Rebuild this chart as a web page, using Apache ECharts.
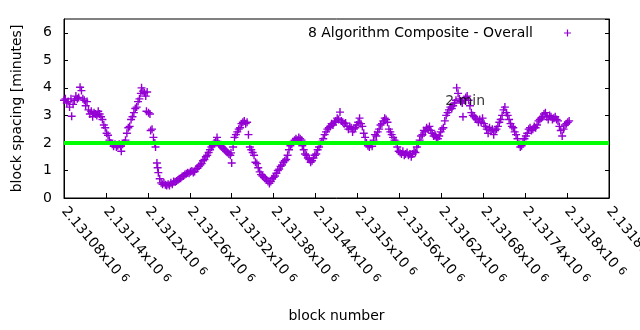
<!DOCTYPE html>
<html>
<head>
<meta charset="utf-8">
<script src="https://cdn.jsdelivr.net/npm/echarts@6/dist/echarts.min.js"></script>
<style>
html,body{margin:0;padding:0;background:#fff;}
#chart{width:640px;height:330px;}
</style>
</head>
<body>
<div id="chart"></div>
<script>
// ---- data ----
const seriesName = '8 Algorithm Composite - Overall';
const blockNumbers = [
2131080,2131082,2131084,2131086,2131088,2131090,2131091,2131093,2131095,2131097,2131099,2131101,2131103,2131105,2131107,2131109,
2131111,2131113,2131115,2131117,2131119,2131121,2131123,2131125,2131127,2131129,2131131,2131133,2131135,2131137,2131139,2131141,
2131143,2131145,2131147,2131149,2131151,2131153,2131155,2131157,2131159,2131161,2131162,2131164,2131166,2131168,2131170,2131172,
2131174,2131176,2131178,2131180,2131182,2131184,2131186,2131188,2131190,2131191,2131193,2131195,2131197,2131198,2131199,2131201,
2131203,2131204,2131206,2131208,2131210,2131211,2131213,2131214,2131215,2131217,2131219,2131221,2131223,2131225,2131227,2131229,
2131231,2131233,2131235,2131237,2131239,2131241,2131243,2131245,2131247,2131249,2131251,2131253,2131255,2131257,2131259,2131261,
2131263,2131265,2131267,2131269,2131271,2131273,2131275,2131277,2131279,2131281,2131283,2131285,2131287,2131289,2131291,2131293,
2131295,2131297,2131299,2131300,2131302,2131304,2131306,2131308,2131310,2131312,2131314,2131316,2131318,2131319,2131320,2131322,
2131324,2131326,2131328,2131330,2131332,2131334,2131336,2131338,2131340,2131342,2131344,2131346,2131348,2131350,2131352,2131354,
2131356,2131358,2131360,2131362,2131364,2131366,2131368,2131370,2131372,2131374,2131376,2131378,2131380,2131382,2131384,2131386,
2131388,2131390,2131392,2131394,2131396,2131398,2131400,2131402,2131404,2131406,2131408,2131410,2131412,2131414,2131416,2131418,
2131420,2131421,2131423,2131425,2131427,2131429,2131431,2131433,2131435,2131437,2131439,2131441,2131443,2131445,2131447,2131449,
2131451,2131453,2131455,2131457,2131459,2131461,2131463,2131465,2131467,2131469,2131471,2131473,2131475,2131477,2131479,2131481,
2131483,2131485,2131487,2131489,2131491,2131493,2131495,2131497,2131499,2131501,2131503,2131505,2131507,2131509,2131511,2131513,
2131515,2131517,2131519,2131521,2131523,2131525,2131527,2131529,2131531,2131533,2131535,2131537,2131539,2131541,2131543,2131545,
2131547,2131549,2131551,2131553,2131555,2131557,2131559,2131561,2131563,2131565,2131567,2131569,2131571,2131573,2131575,2131577,
2131579,2131581,2131583,2131585,2131587,2131589,2131591,2131593,2131595,2131597,2131599,2131601,2131603,2131605,2131607,2131609,
2131611,2131613,2131615,2131617,2131619,2131621,2131623,2131625,2131627,2131629,2131631,2131633,2131635,2131637,2131639,2131641,
2131642,2131644,2131646,2131648,2131650,2131651,2131653,2131655,2131657,2131659,2131661,2131663,2131665,2131667,2131669,2131671,
2131673,2131675,2131677,2131679,2131681,2131683,2131685,2131687,2131689,2131691,2131693,2131695,2131697,2131699,2131701,2131703,
2131705,2131707,2131709,2131711,2131713,2131715,2131717,2131719,2131721,2131723,2131725,2131727,2131729,2131731,2131733,2131735,
2131737,2131739,2131741,2131743,2131745,2131747,2131749,2131751,2131753,2131755,2131757,2131759,2131761,2131763,2131765,2131767,
2131769,2131771,2131773,2131775,2131777,2131779,2131781,2131783,2131785,2131787,2131789,2131791,2131793,2131795,2131797,2131799,
2131801,2131803
];
const spacingMinutes = [
3.55,3.6,3.45,3.5,3.3,3.6,2.97,3.4,3.55,3.7,3.6,3.65,4.02,3.9,3.6,3.55,
3.35,3.5,3.2,3.05,3.15,2.95,3.1,3.05,3.0,3.15,3.05,2.95,2.85,2.65,2.55,2.35,
2.28,2.1,2.0,1.95,1.88,1.95,1.85,1.9,1.95,1.88,1.7,1.95,2.0,2.1,2.35,2.55,
2.6,2.85,2.95,3.1,3.25,3.3,3.5,3.6,3.8,4.0,3.88,3.82,3.7,3.15,3.85,3.1,
3.05,2.45,2.5,2.2,2.0,1.85,1.27,1.1,0.92,0.7,0.55,0.5,0.55,0.48,0.45,0.5,
0.45,0.55,0.5,0.6,0.58,0.62,0.65,0.7,0.72,0.78,0.8,0.85,0.88,0.92,0.9,0.95,
0.98,0.93,0.96,1.05,1.08,1.15,1.2,1.25,1.35,1.4,1.5,1.55,1.65,1.75,1.85,1.9,
2.0,2.05,2.2,2.05,1.95,1.9,1.85,1.8,1.75,1.7,1.65,1.6,1.55,1.64,1.27,1.85,
2.2,2.3,2.4,2.5,2.55,2.7,2.75,2.8,2.7,2.75,2.3,1.85,1.75,1.65,1.55,1.3,
1.25,1.1,0.95,0.85,0.8,0.75,0.72,0.65,0.6,0.53,0.6,0.7,0.75,0.8,0.9,1.0,
1.05,1.15,1.2,1.3,1.35,1.4,1.55,1.75,1.9,1.95,2.05,2.1,2.15,2.1,2.2,2.15,
2.1,1.9,1.75,1.6,1.55,1.45,1.4,1.3,1.35,1.45,1.55,1.6,1.75,1.85,1.95,2.05,
2.15,2.3,2.4,2.5,2.55,2.6,2.7,2.65,2.75,2.8,2.9,2.85,3.12,2.8,2.75,2.7,
2.72,2.6,2.5,2.6,2.55,2.4,2.5,2.55,2.65,2.75,2.9,2.7,2.6,2.35,2.2,2.0,
1.9,1.85,1.95,1.88,2.1,2.3,2.25,2.4,2.5,2.65,2.7,2.8,2.9,2.85,2.75,2.5,
2.4,2.3,2.2,2.1,2.05,1.85,1.7,1.65,1.6,1.7,1.55,1.6,1.65,1.55,1.6,1.5,
1.6,1.7,1.65,1.85,1.95,2.1,2.25,2.3,2.45,2.4,2.55,2.5,2.6,2.45,2.35,2.25,
2.3,2.2,2.15,2.25,2.4,2.5,2.55,2.8,3.0,3.1,3.2,3.3,3.25,3.35,3.45,3.55,
4.0,3.8,3.6,3.5,3.45,2.95,3.55,3.65,3.7,3.55,3.35,3.1,3.0,2.95,2.9,2.85,
2.75,2.85,2.75,2.9,2.7,2.6,2.5,2.35,2.55,2.45,2.5,2.3,2.45,2.5,2.6,2.75,
2.85,3.0,3.2,3.3,3.1,3.0,2.85,2.7,2.6,2.55,2.4,2.3,2.15,1.95,1.85,1.9,
2.05,2.15,2.25,2.35,2.5,2.55,2.45,2.5,2.6,2.55,2.65,2.8,2.85,2.9,2.95,3.05,
3.1,2.95,2.85,3.0,2.95,2.85,2.9,2.95,2.85,2.8,2.6,2.45,2.25,2.5,2.65,2.7,
2.75,2.8
];
const referenceLineX = [2131080, 2131860];
const referenceLineY = [2, 2];
const annotationText = '2 min';
const annotationX = 2131625;
const annotationY = 3.5;
const xTickLabels = ['2.13108','2.13114','2.1312','2.13126','2.13132','2.13138','2.13144',
  '2.1315','2.13156','2.13162','2.13168','2.13174','2.1318','2.13186'];
const xMin = 2131080, xMax = 2131860, xStep = 60;
const yMin = 0, yMax = 6.5, yStep = 1;

// ---- chart ----
const FONT = '"DejaVu Sans", sans-serif';
const PLUS = 'path://M3.3,0h1.4v8h-1.4zM0,3.3h8v1.4h-8z';
const PURPLE = '#9400d3';
const chart = echarts.init(document.getElementById('chart'), null, {renderer: 'canvas'});
const scatterData = blockNumbers.map((b, i) => [b, spacingMinutes[i]]);
const lineData = referenceLineX.map((x, i) => [x, referenceLineY[i]]);

chart.setOption({
  animation: false,
  backgroundColor: '#fff',
  textStyle: {fontFamily: FONT},
  grid: {left: 64, right: 31, top: 19, bottom: 132, outerBoundsMode: 'none', containLabel: false,
    show: true, borderColor: '#000', borderWidth: 1, backgroundColor: 'transparent'},
  legend: {
    data: [{name: seriesName, icon: PLUS}],
    right: 64, top: 21,
    align: 'right',
    itemWidth: 7, itemHeight: 7,
    textStyle: {fontSize: 14, color: '#000', fontFamily: FONT, padding: [0, 26, 0, 0]}
  },
  xAxis: {
    type: 'value', min: xMin, max: xMax, interval: xStep,
    name: 'block number', nameLocation: 'middle', nameGap: 111,
    nameTextStyle: {fontSize: 14, color: '#000', fontFamily: FONT},
    axisLine: {show: true, lineStyle: {color: '#000', width: 1}},
    axisTick: {show: true, inside: true, length: 5, lineStyle: {color: '#000'}},
    splitLine: {show: false},
    axisLabel: {
      rotate: -50, margin: 11, fontSize: 14, color: '#000', fontFamily: FONT,
      showMinLabel: true, showMaxLabel: true, hideOverlap: false,
      formatter: function (v) {
        const i = Math.round((v - xMin) / xStep);
        return xTickLabels[i] + 'x10 {sup|6}';
      },
      rich: {sup: {fontSize: 11, color: '#000', fontFamily: FONT, verticalAlign: 'top', padding: [0, 0, 4, 0]}}
    }
  },
  yAxis: [{
    type: 'value', min: yMin, max: yMax, interval: yStep,
    name: 'block spacing [minutes]', nameLocation: 'middle', nameGap: 40,
    nameTextStyle: {fontSize: 14, color: '#000', fontFamily: FONT},
    axisLine: {show: true, lineStyle: {color: '#000', width: 1}},
    axisTick: {show: true, inside: true, length: 4, lineStyle: {color: '#000'}},
    splitLine: {show: false},
    axisLabel: {margin: 12, fontSize: 14, color: '#000', fontFamily: FONT, showMaxLabel: false,
      formatter: v => Number.isInteger(v) ? String(v) : ''}
  }, {
    type: 'value', position: 'right', min: yMin, max: yMax, interval: yStep,
    axisLine: {show: true, lineStyle: {color: '#000', width: 1}},
    axisTick: {show: true, inside: true, length: 4, lineStyle: {color: '#000'}},
    axisLabel: {show: false}, splitLine: {show: false}
  }],
  series: [{
    name: seriesName, type: 'scatter', data: scatterData,
    symbol: PLUS, symbolSize: 8,
    itemStyle: {color: PURPLE, opacity: 1},
    z: 2
  }, {
    name: 'ref', type: 'line', data: lineData, showSymbol: false, symbol: 'none',
    lineStyle: {color: '#00ff00', width: 4}, z: 3, silent: true
  }, {
    name: 'annotation', type: 'scatter', data: [[annotationX, annotationY]],
    symbol: 'circle', symbolSize: 1, itemStyle: {color: 'transparent'},
    label: {show: true, position: 'right', distance: 0, formatter: annotationText,
      fontSize: 14, color: '#000', fontFamily: FONT},
    z: 4, silent: true
  }]
});
</script>
</body>
</html>
